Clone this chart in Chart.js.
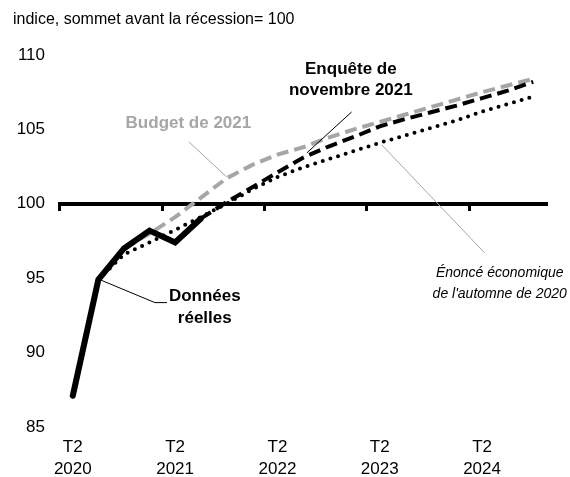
<!DOCTYPE html>
<html>
<head>
<meta charset="utf-8">
<script src="https://cdn.jsdelivr.net/npm/chart.js@4.4.1/dist/chart.umd.min.js"></script>
<style>
  body { margin: 0; background: #fff; }
</style>
</head>
<body>
<canvas id="graphique" width="570" height="477"></canvas>
<script>
// trimestres de T2 2020 a T4 2024
const trimestres = ['T2 2020', 'T3 2020', 'T4 2020', 'T1 2021', 'T2 2021', 'T3 2021', 'T4 2021',
  'T1 2022', 'T2 2022', 'T3 2022', 'T4 2022', 'T1 2023', 'T2 2023', 'T3 2023', 'T4 2023',
  'T1 2024', 'T2 2024', 'T3 2024', 'T4 2024'];

const donneesReelles = [87.1, 94.9, 97.0, 98.2, 97.4, 99.0, null, null, null, null, null, null, null, null, null, null, null, null, null];
const enqueteNov2021 = [null, null, null, null, null, 99.0, 100.1, 101.1, 102.1, 103.1, 103.85, 104.5, 105.2, 105.7, 106.15, 106.6, 107.1, 107.6, 108.2];
const enonceAutomne2020 = [null, 94.9, 96.6, 97.4, 98.25, 99.1, 100.0, 100.95, 101.8, 102.45, 103.0, 103.55, 104.1, 104.6, 105.1, 105.6, 106.2, 106.7, 107.2];
const budget2021 = [null, null, 97.0, 98.0, 99.1, 100.4, 101.7, 102.6, 103.3, 103.8, 104.45, 105.0, 105.5, 106.0, 106.5, 107.0, 107.5, 107.95, 108.4];

const yTicks = [85, 90, 95, 100, 105, 110];

// textes et traits de rappel (x = indice du trimestre, y = valeur)
const notes = [
  { lignes: ['Enquête de', 'novembre 2021'], x: 10.87, y: 109.06, style: 'bold', taille: 17, couleur: '#000' },
  { lignes: ['Budget de 2021'], x: 4.52, y: 105.4, style: 'bold', taille: 17, couleur: '#a6a6a6' },
  { lignes: ['Énoncé économique', "de l'automne de 2020"], x: 16.69, y: 95.37, style: 'italic', taille: 14, couleur: '#000' },
  { lignes: ['Données', 'réelles'], x: 5.16, y: 93.76, style: 'bold', taille: 17, couleur: '#000' }
];
const traits = [
  { points: [[1.06, 94.9], [3.21, 93.36], [3.68, 93.36]], couleur: '#000' },
  { points: [[4.54, 104.16], [6.02, 101.8]], couleur: '#a6a6a6' },
  { points: [[10.9, 106.17], [9.15, 103.42]], couleur: '#000' },
  { points: [[12.08, 103.96], [16.1, 96.7]], couleur: '#a6a6a6' }
];

const police = '"Liberation Sans", Arial, sans-serif';
Chart.defaults.font.family = police;
Chart.defaults.color = '#000';

const annotations = {
  id: 'annotations',
  afterDatasetsDraw(chart) {
    const ctx = chart.ctx;
    const x = chart.scales.x, y = chart.scales.y;
    ctx.save();
    traits.forEach(t => {
      ctx.beginPath();
      t.points.forEach(([i, v], k) => {
        const px = x.getPixelForValue(i), py = y.getPixelForValue(v);
        if (k) ctx.lineTo(px, py); else ctx.moveTo(px, py);
      });
      ctx.strokeStyle = t.couleur;
      ctx.lineWidth = 1;
      ctx.stroke();
    });
    notes.forEach(n => {
      ctx.font = `${n.style} ${n.taille}px ${police}`;
      ctx.fillStyle = n.couleur;
      ctx.textAlign = 'center';
      ctx.textBaseline = 'middle';
      n.lignes.forEach((l, k) => {
        ctx.fillText(l, x.getPixelForValue(n.x), y.getPixelForValue(n.y) + k * 21.5);
      });
    });
    ctx.restore();
  }
};

new Chart(document.getElementById('graphique'), {
  type: 'line',
  data: {
    labels: trimestres,
    datasets: [
      { label: 'Données réelles', data: donneesReelles, borderColor: '#000', borderWidth: 6, borderCapStyle: 'round' },
      { label: 'Enquête de novembre 2021', data: enqueteNov2021, borderColor: '#000', borderWidth: 4, borderDash: [12, 6] },
      { label: "Énoncé économique de l'automne de 2020", data: enonceAutomne2020, borderColor: '#000', borderWidth: 4, borderDash: [0, 8], borderCapStyle: 'round' },
      { label: 'Budget de 2021', data: budget2021, borderColor: '#a6a6a6', borderWidth: 4, borderDash: [12, 6] }
    ]
  },
  options: {
    responsive: false,
    animation: false,
    elements: { point: { radius: 0 }, line: { tension: 0 } },
    layout: { padding: { left: 13, right: 24, top: 0, bottom: 0 } },
    plugins: {
      legend: { display: false },
      tooltip: { enabled: false },
      title: {
        display: true,
        text: 'indice, sommet avant la récession= 100',
        align: 'start',
        color: '#000',
        font: { size: 16, weight: 'normal', lineHeight: 1.2 },
        padding: { top: 10, bottom: 25.8 }
      }
    },
    scales: {
      x: {
        type: 'category',
        position: 'bottom',
        offset: true,
        grid: { display: false, drawTicks: false },
        border: { display: false },
        ticks: {
          autoSkip: false,
          maxRotation: 0,
          padding: 10,
          font: { size: 17, lineHeight: 1.27 },
          callback: (v, i) => trimestres[i].startsWith('T2') ? trimestres[i].split(' ') : ''
        },
        afterFit: s => { s.height = 50; }
      },
      x100: {
        type: 'category',
        position: { y: 100 },
        offset: true,
        grid: {
          display: true,
          offset: true,
          drawOnChartArea: false,
          drawTicks: true,
          tickLength: 5,
          lineWidth: 3,
          color: c => (c.index % 4 === 0 && c.index < trimestres.length) ? '#000' : 'rgba(0,0,0,0)'
        },
        border: { display: true, color: '#000', width: 4 },
        ticks: { display: false },
        afterFit: s => { s.height = 0; }
      },
      y: {
        min: 85,
        max: 110,
        grid: { display: false, drawTicks: false },
        border: { display: false },
        afterBuildTicks: s => { s.ticks = yTicks.map(v => ({ value: v })); },
        ticks: { padding: 15, font: { size: 17 } },
        afterFit: s => { s.width = 47; }
      }
    }
  },
  plugins: [annotations]
});
</script>
</body>
</html>
